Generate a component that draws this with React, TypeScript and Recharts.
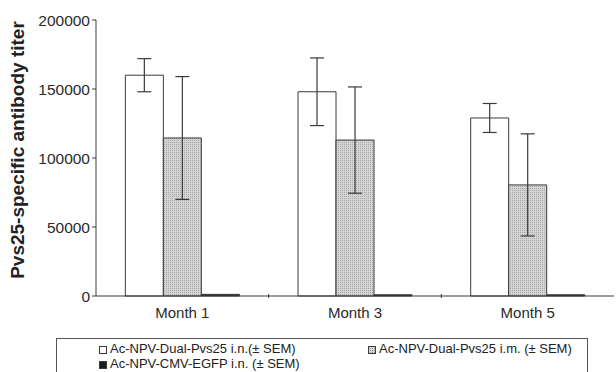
// Pvs25-specific antibody titer — grouped bars with SEM error bars, scanned-figure look

import { BarChart, Bar, XAxis, YAxis, ErrorBar } from 'recharts'

const CATEGORIES = ['Month 1', 'Month 3', 'Month 5']
const IN_VALUES = [160000, 148000, 129000]
const IN_SEM = [12000, 24500, 10500]
const IM_VALUES = [114500, 113000, 80500]
const IM_SEM = [44500, 38500, 37000]
const EGFP_VALUES = [1200, 900, 900]
const Y_TICKS = [0, 50000, 100000, 150000, 200000]

const SERIES = [
  { key: 'inV', err: 'inE', name: 'Ac-NPV-Dual-Pvs25 i.n.(± SEM)', fill: '#ffffff' },
  { key: 'imV', err: 'imE', name: 'Ac-NPV-Dual-Pvs25 i.m. (± SEM)', fill: 'url(#dots)' },
  { key: 'egV', err: null, name: 'Ac-NPV-CMV-EGFP i.n. (± SEM)', fill: '#1e1e1e' },
]

const data = CATEGORIES.map((month, i) => ({
  month,
  inV: IN_VALUES[i], inE: IN_SEM[i],
  imV: IM_VALUES[i], imE: IM_SEM[i],
  egV: EGFP_VALUES[i],
}))

const W = 616
const H = 372
const LEFT = 96
const RIGHT = 2
const BAND = (W - LEFT - RIGHT) / CATEGORIES.length
const INK = '#3a3a3a'
const FONT = '"Liberation Sans", Arial, sans-serif'

// Excel-style: label under the center, tick mark on the category boundary
function MonthTick({ x, y, payload, index }: any) {
  const last = index === CATEGORIES.length - 1
  return (
    <g>
      {!last && <line x1={x + BAND / 2} x2={x + BAND / 2} y1={y - 10} y2={y - 6} stroke={INK} />}
      <text x={x} y={y + 14} textAnchor="middle" fill="#2a2a2a"
        style={{ fontSize: 15, fontFamily: FONT }}>
        {payload.value}
      </text>
    </g>
  )
}

function YLabel({ viewBox }: any) {
  const cy = viewBox.y + viewBox.height / 2 - 8
  return (
    <text x={24} y={cy} transform={`rotate(-90, 24, ${cy})`} textAnchor="middle"
      fill="#222" style={{ fontSize: 19, fontWeight: 'bold', fontFamily: FONT }}>
      Pvs25-specific antibody titer
    </text>
  )
}

function LegendIcon({ fill }: { fill: string }) {
  return (
    <svg width={8} height={8} style={{ marginRight: 3, verticalAlign: 'middle' }}>
      <defs>
        <pattern id="dotsL" width="2" height="2" patternUnits="userSpaceOnUse">
          <rect width="2" height="2" fill="#d6d6d6" />
          <rect width="1" height="1" fill="#9a9a9a" />
        </pattern>
      </defs>
      <rect x={0.5} y={0.5} width={7} height={7}
        fill={fill === 'url(#dots)' ? 'url(#dotsL)' : fill} stroke={INK} />
    </svg>
  )
}

export default function App() {
  return (
    <div style={{ position: 'absolute', left: 0, top: 0, width: W, height: H, background: '#fff', overflow: 'hidden' }}>
      <BarChart width={W} height={H} data={data}
        margin={{ top: 20, right: RIGHT, bottom: 46, left: 0 }}
        barCategoryGap="17%" barGap={0}>
        <defs>
          <pattern id="dots" width="2" height="2" patternUnits="userSpaceOnUse">
            <rect width="2" height="2" fill="#d4d4d4" />
            <rect width="1" height="1" fill="#a8a8a8" />
          </pattern>
        </defs>
        <XAxis dataKey="month" height={30} stroke={INK} tickLine={false} tick={<MonthTick />} interval={0} />
        <YAxis width={LEFT} domain={[0, 200000]} ticks={Y_TICKS} stroke={INK}
          tickSize={4} tickMargin={2}
          tick={{ fill: '#2a2a2a', fontSize: 15.5, fontFamily: FONT }}
          label={<YLabel />} />
        {SERIES.map((s) => (
          <Bar key={s.key} dataKey={s.key} name={s.name} fill={s.fill}
            stroke={INK} strokeWidth={1} isAnimationActive={false}>
            {s.err && <ErrorBar dataKey={s.err} width={7} stroke={INK} strokeWidth={1.2} />}
          </Bar>
        ))}
      </BarChart>

      {/* legend box, cut by the bottom edge as in the scan */}
      <div style={{
        position: 'absolute', left: 56, top: 338, width: 532, height: 60,
        border: '1px solid #555', boxSizing: 'border-box',
        fontFamily: FONT, fontSize: 13, color: '#222', lineHeight: '15px',
      }}>
        <div style={{ position: 'absolute', left: 42, top: 2, whiteSpace: 'nowrap' }}>
          <LegendIcon fill={SERIES[0].fill} />{SERIES[0].name}
        </div>
        <div style={{ position: 'absolute', left: 311, top: 2, whiteSpace: 'nowrap' }}>
          <LegendIcon fill={SERIES[1].fill} />{SERIES[1].name}
        </div>
        <div style={{ position: 'absolute', left: 42, top: 17, whiteSpace: 'nowrap' }}>
          <LegendIcon fill={SERIES[2].fill} />{SERIES[2].name}
        </div>
      </div>
    </div>
  )
}
